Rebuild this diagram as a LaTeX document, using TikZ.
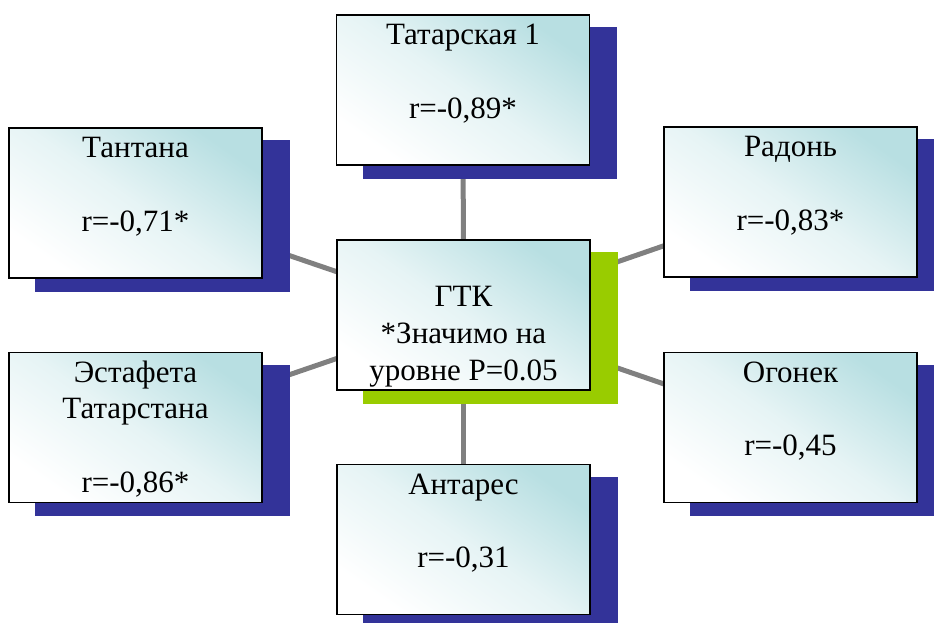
\documentclass[tikz,border=0pt]{standalone}
\usepackage{fontspec}
\setmainfont{Liberation Serif}
\usetikzlibrary{positioning,backgrounds}
\definecolor{boxcyan}{RGB}{184,223,226}
\definecolor{shadowblue}{RGB}{51,51,153}
\definecolor{shadowgreen}{RGB}{153,204,0}
\definecolor{linkgray}{RGB}{128,128,128}
\tikzset{
  cardbox/.style={draw=black, line width=1.2pt, inner sep=0pt,
    minimum width=189.75pt, minimum height=112.5pt,
    bottom color=white, top color=boxcyan, middle color=boxcyan!35!white,
    shading angle=-35},
  cardtext/.style={inner sep=0pt, align=center,
    font=\fontsize{23.25}{27.6}\selectfont},
  link/.style={draw=linkgray, line width=3.75pt},
}
\begin{document}
\begin{tikzpicture}[x=0.75pt,y=-0.75pt]
\useasboundingbox (0,0) rectangle (934,622);

%Shape: Rectangle
\node[cardbox] (t1) at (463,90) {};
%Shape: Rectangle
\node[cardbox] (gtk) at (463.5,315) {};
%Shape: Rectangle
\node[cardbox] (tant) at (135.5,203) {};
%Shape: Rectangle
\node[cardbox] (rad) at (790.5,202) {};
%Shape: Rectangle
\node[cardbox] (est) at (135.5,427.5) {};
%Shape: Rectangle
\node[cardbox] (ogon) at (790.5,427.5) {};
%Shape: Rectangle
\node[cardbox] (ant) at (463.5,539.5) {};

\begin{scope}[on background layer]
%Straight Lines
\draw[link] (gtk.center) -- (t1.center);
\draw[link] (gtk.center) -- (ant.center);
\draw[link] (gtk.center) -- (tant.center);
\draw[link] (gtk.center) -- (est.center);
\draw[link] (gtk.center) -- (rad.center);
\draw[link] (gtk.center) -- (ogon.center);

%Shadows
\fill[shadowblue] ([shift={(27,13)}]t1.north west) rectangle ([shift={(27,13)}]t1.south east);
\fill[shadowgreen] ([shift={(27,13)}]gtk.north west) rectangle ([shift={(27,13)}]gtk.south east);
\fill[shadowblue] ([shift={(27,13)}]tant.north west) rectangle ([shift={(27,13)}]tant.south east);
\fill[shadowblue] ([shift={(27,13)}]rad.north west) rectangle ([shift={(27,13)}]rad.south east);
\fill[shadowblue] ([shift={(27,13)}]est.north west) rectangle ([shift={(27,13)}]est.south east);
\fill[shadowblue] ([shift={(27,13)}]ogon.north west) rectangle ([shift={(27,13)}]ogon.south east);
\fill[shadowblue] ([shift={(27,13)}]ant.north west) rectangle ([shift={(27,13)}]ant.south east);
\end{scope}

% Text Node
\node[cardtext, below=3.2pt of t1.north] (t1txt) {\strut Татарская 1\\[\baselineskip]r=-0,89*};
% Text Node
\node[cardtext, below=30.9pt of gtk.north] (gtktxt) {\strut ГТК\\*Значимо на\\уровне P=0.05};
% Text Node
\node[cardtext, below=3.2pt of tant.north] (tanttxt) {\strut Тантана\\[\baselineskip]r=-0,71*};
% Text Node
\node[cardtext, below=3.2pt of rad.north] (radtxt) {\strut Радонь\\[\baselineskip]r=-0,83*};
% Text Node
\node[cardtext, below=3.2pt of est.north] (esttxt) {\strut Эстафета\\Татарстана\\[\baselineskip]r=-0,86*};
% Text Node
\node[cardtext, below=3.2pt of ogon.north] (ogontxt) {\strut Огонек\\[\baselineskip]r=-0,45};
% Text Node
\node[cardtext, below=3.2pt of ant.north] (anttxt) {\strut Антарес\\[\baselineskip]r=-0,31};

\end{tikzpicture}
\end{document}
